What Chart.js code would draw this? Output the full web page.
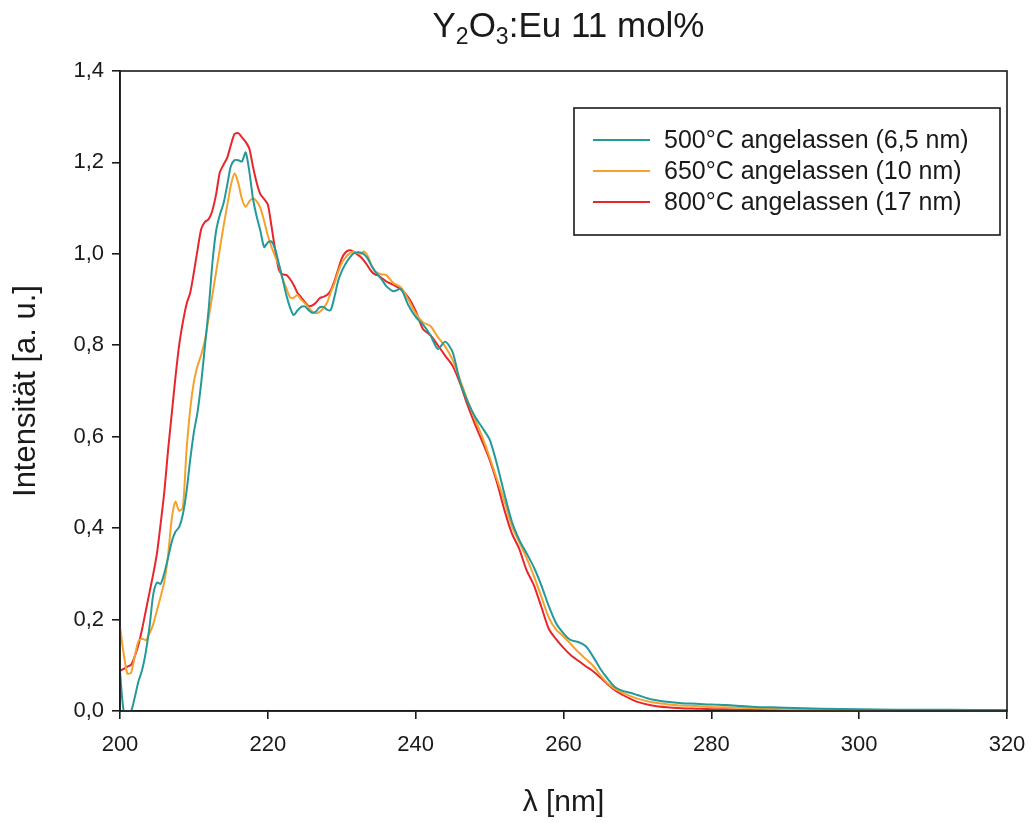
<!DOCTYPE html>
<html>
<head>
<meta charset="utf-8">
<script src="https://cdn.jsdelivr.net/npm/chart.js@4/dist/chart.umd.min.js"></script>
<style>
  html, body { margin: 0; padding: 0; background: #ffffff; }
  #wrap { width: 1035px; height: 823px; position: relative; }
</style>
</head>
<body>
<div id="wrap"><canvas id="c" width="1035" height="823"></canvas></div>
<script>
// Excitation wavelength grid (nm)
const wavelengths = [
  200, 200.5, 201, 201.5, 202, 202.5, 203, 203.5, 204, 204.5, 205, 205.5, 206, 206.5, 207, 207.5,
  208, 208.5, 209, 209.5, 210, 210.5, 211, 211.5, 212, 212.5, 213, 213.5, 214, 214.5, 215, 215.5,
  216, 216.5, 217, 217.5, 218, 218.5, 219, 219.5, 220, 220.5, 221, 221.5, 222, 222.5, 223, 223.5,
  224, 224.5, 225, 225.5, 226, 226.5, 227, 227.5, 228, 228.5, 229, 229.5, 230, 230.5, 231, 231.5,
  232, 232.5, 233, 233.5, 234, 234.5, 235, 235.5, 236,
  237, 238, 239, 240, 241, 242, 243, 244, 245, 246, 247, 248, 249, 250, 251, 252, 253, 254, 255,
  256, 257, 258, 259, 260, 261, 262, 263, 264, 265, 266, 267, 268, 269, 270,
  272, 274, 276, 278, 280, 282, 284, 286, 288, 290,
  295, 300, 305, 310, 315, 320
];

// 500 °C annealed (6,5 nm)
const int500 = [
  0.086, 0.0, 0.0, 0.0, 0.03, 0.065, 0.09, 0.13, 0.185, 0.255, 0.281, 0.278, 0.302, 0.335, 0.37, 0.392,
  0.402, 0.43, 0.48, 0.55, 0.61, 0.655, 0.72, 0.80, 0.88, 0.98, 1.05, 1.085, 1.11, 1.15, 1.192, 1.205,
  1.205, 1.202, 1.222, 1.18, 1.12, 1.081, 1.05, 1.015, 1.025, 1.027, 1.01, 0.978, 0.945, 0.91, 0.883, 0.866,
  0.876, 0.884, 0.885, 0.877, 0.871, 0.874, 0.883, 0.884, 0.878, 0.877, 0.905, 0.94, 0.962, 0.978, 0.99, 1.0,
  1.003, 1.003, 0.999, 0.99, 0.975, 0.962, 0.952, 0.942, 0.93,
  0.918, 0.923, 0.888, 0.862, 0.845, 0.822, 0.792, 0.808, 0.785, 0.72, 0.678, 0.645, 0.62, 0.594, 0.54, 0.475, 0.415, 0.375, 0.345,
  0.314, 0.275, 0.23, 0.192, 0.17, 0.155, 0.151, 0.142, 0.119, 0.092, 0.07, 0.052, 0.044, 0.04, 0.035,
  0.025, 0.02, 0.017, 0.016, 0.014, 0.013, 0.011, 0.009, 0.008, 0.007,
  0.005, 0.004, 0.003, 0.003, 0.002, 0.002
];

// 650 °C annealed (10 nm)
const int650 = [
  0.184, 0.125, 0.082, 0.084, 0.12, 0.153, 0.158, 0.155, 0.17, 0.19, 0.22, 0.25, 0.283, 0.34, 0.42, 0.458,
  0.438, 0.445, 0.57, 0.66, 0.72, 0.755, 0.78, 0.812, 0.86, 0.91, 0.96, 1.01, 1.06, 1.105, 1.15, 1.176,
  1.155, 1.12, 1.103, 1.115, 1.121, 1.115, 1.1, 1.072, 1.04, 1.015, 0.994, 0.975, 0.945, 0.925, 0.905, 0.904,
  0.91, 0.9, 0.892, 0.883, 0.874, 0.87, 0.873, 0.881, 0.893, 0.915, 0.935, 0.96, 0.98, 0.992, 1.0, 1.005,
  1.002, 1.0, 1.005, 0.996, 0.975, 0.962, 0.957, 0.955, 0.954,
  0.936, 0.927, 0.9, 0.87, 0.85, 0.842, 0.818, 0.797, 0.768, 0.725, 0.68, 0.64, 0.6, 0.555, 0.507, 0.46, 0.405, 0.37, 0.335,
  0.295, 0.25, 0.205, 0.178, 0.163, 0.146, 0.129, 0.114, 0.099, 0.078, 0.06, 0.048, 0.04, 0.033, 0.027,
  0.019, 0.015, 0.012, 0.011, 0.009, 0.008, 0.007, 0.006, 0.005, 0.004,
  0.003, 0.002, 0.002, 0.002, 0.001, 0.001
];

// 800 °C annealed (17 nm)
const int800 = [
  0.088, 0.092, 0.097, 0.101, 0.12, 0.145, 0.18, 0.22, 0.26, 0.30, 0.345, 0.41, 0.48, 0.57, 0.65, 0.73,
  0.80, 0.85, 0.89, 0.915, 0.96, 1.01, 1.055, 1.07, 1.076, 1.095, 1.13, 1.178, 1.195, 1.21, 1.238, 1.262,
  1.264, 1.255, 1.245, 1.23, 1.19, 1.155, 1.13, 1.12, 1.108, 1.06, 1.008, 0.965, 0.955, 0.954, 0.945, 0.932,
  0.915, 0.905, 0.895, 0.886, 0.887, 0.893, 0.903, 0.906, 0.91, 0.92, 0.94, 0.965, 0.99, 1.003, 1.008, 1.006,
  1.0, 0.994, 0.985, 0.974, 0.962, 0.955, 0.952, 0.946, 0.94,
  0.932, 0.922, 0.905, 0.875, 0.835, 0.822, 0.8, 0.777, 0.755, 0.717, 0.67, 0.628, 0.59, 0.55, 0.50, 0.44, 0.389, 0.355, 0.308,
  0.275, 0.228, 0.18, 0.157, 0.138, 0.122, 0.11, 0.098, 0.087, 0.073, 0.058, 0.045, 0.035, 0.027, 0.02,
  0.012, 0.008, 0.006, 0.005, 0.004, 0.004, 0.003, 0.003, 0.003, 0.002,
  0.002, 0.002, 0.001, 0.001, 0.001, 0.001
];

const seriesLabels = [
  '500°C angelassen (6,5 nm)',
  '650°C angelassen (10 nm)',
  '800°C angelassen (17 nm)'
];
const seriesColors = ['#23999a', '#f5a12c', '#e8262b'];
const xTicks = [200, 220, 240, 260, 280, 300, 320];
const yTicks = [0, 0.2, 0.4, 0.6, 0.8, 1.0, 1.2, 1.4];

const FONT = '"Liberation Sans", Arial, sans-serif';
const INK = '#1a1a1a';

function toPoints(values) {
  return values.map((v, i) => ({ x: wavelengths[i], y: v }));
}

// Frame around the plot area, title with subscripts, and the boxed legend
const decorations = {
  id: 'decorations',
  afterDraw(chart) {
    const ctx = chart.ctx;
    const a = chart.chartArea;
    ctx.save();
    ctx.strokeStyle = INK;
    ctx.lineWidth = 1.6;
    ctx.strokeRect(a.left, a.top, a.right - a.left, a.bottom - a.top);

    // Title: Y2O3:Eu 11 mol%
    const parts = [
      { t: 'Y', sub: false }, { t: '2', sub: true },
      { t: 'O', sub: false }, { t: '3', sub: true },
      { t: ':Eu 11 mol%', sub: false }
    ];
    const big = '35px ' + FONT, small = '23px ' + FONT;
    let total = 0;
    parts.forEach(p => { ctx.font = p.sub ? small : big; total += ctx.measureText(p.t).width; });
    let x = (a.left + a.right) / 2 + 5 - total / 2;
    const base = 37;
    ctx.fillStyle = INK;
    ctx.textBaseline = 'alphabetic';
    ctx.textAlign = 'left';
    parts.forEach(p => {
      ctx.font = p.sub ? small : big;
      ctx.fillText(p.t, x, p.sub ? base + 7 : base);
      x += ctx.measureText(p.t).width;
    });

    // Legend
    const lx = 574, ly = 108, lw = 426, lh = 127;
    ctx.lineWidth = 1.6;
    ctx.strokeStyle = INK;
    ctx.strokeRect(lx, ly, lw, lh);
    ctx.font = '25px ' + FONT;
    ctx.textBaseline = 'middle';
    chart.data.datasets.forEach((ds, i) => {
      const yy = 140 + i * 31;
      ctx.strokeStyle = ds.borderColor;
      ctx.lineWidth = 2;
      ctx.beginPath();
      ctx.moveTo(593, yy);
      ctx.lineTo(650, yy);
      ctx.stroke();
      ctx.fillStyle = INK;
      ctx.fillText(ds.label, 664, yy + 1);
    });
    ctx.restore();
  }
};

new Chart(document.getElementById('c'), {
  type: 'line',
  data: {
    datasets: [int500, int650, int800].map((vals, i) => ({
      label: seriesLabels[i],
      data: toPoints(vals),
      borderColor: seriesColors[i],
      backgroundColor: seriesColors[i],
      borderWidth: 2,
      pointRadius: 0,
      tension: 0.25,
      fill: false
    }))
  },
  options: {
    responsive: false,
    animation: false,
    layout: { padding: { top: 71, right: 28, left: 0, bottom: 0 } },
    plugins: {
      legend: { display: false },
      title: { display: false },
      tooltip: { enabled: false }
    },
    scales: {
      x: {
        type: 'linear',
        min: 200,
        max: 320,
        afterBuildTicks(scale) { scale.ticks = xTicks.map(v => ({ value: v })); },
        afterFit(scale) {
          scale.height = 112;
          scale.paddingLeft = 0;
          scale.paddingRight = 0;
        },
        ticks: {
          color: INK,
          font: { family: FONT, size: 22 },
          padding: 13,
          maxRotation: 0,
          callback: v => String(v)
        },
        grid: { display: true, drawOnChartArea: false, drawTicks: true, tickLength: 8, color: INK, lineWidth: 1.6 },
        border: { display: true, color: INK, width: 1.6 },
        title: {
          display: true,
          text: 'λ [nm]',
          color: INK,
          font: { family: FONT, size: 30 },
          padding: { top: 0, bottom: 2 }
        }
      },
      y: {
        type: 'linear',
        min: 0,
        max: 1.4,
        afterBuildTicks(scale) { scale.ticks = yTicks.map(v => ({ value: v })); },
        afterFit(scale) {
          scale.width = 120;
          scale.paddingTop = 0;
          scale.paddingBottom = 0;
        },
        ticks: {
          color: INK,
          font: { family: FONT, size: 22 },
          padding: 8,
          callback: v => v.toFixed(1).replace('.', ',')
        },
        grid: { display: true, drawOnChartArea: false, drawTicks: true, tickLength: 8, color: INK, lineWidth: 1.6 },
        border: { display: true, color: INK, width: 1.6 },
        title: {
          display: true,
          text: 'Intensität [a. u.]',
          color: INK,
          font: { family: FONT, size: 31 },
          padding: { top: 8, bottom: 0 }
        }
      }
    }
  },
  plugins: [decorations]
});
</script>
</body>
</html>
